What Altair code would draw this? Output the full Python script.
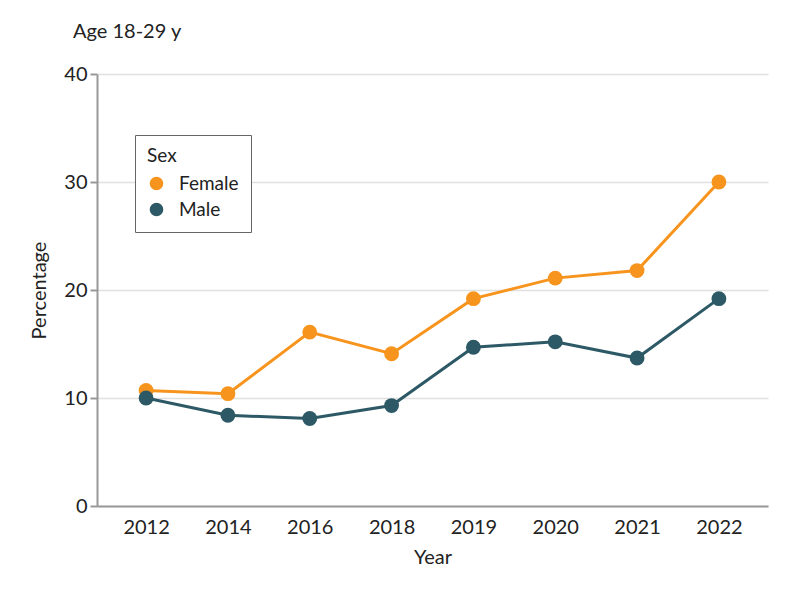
import altair as alt
import pandas as pd

years = ["2012", "2014", "2016", "2018", "2019", "2020", "2021", "2022"]
female = [10.7, 10.4, 16.1, 14.1, 19.2, 21.1, 21.8, 30.0]
male = [10.0, 8.4, 8.1, 9.3, 14.7, 15.2, 13.7, 19.2]
sexes = ["Female", "Male"]
colors = ["#F7941D", "#2D5966"]

rows = []
for y, f, m in zip(years, female, male):
    rows.append({"Year": y, "Sex": "Female", "Percentage": f})
    rows.append({"Year": y, "Sex": "Male", "Percentage": m})
df = pd.DataFrame(rows)

FONT = "Lato"
FS = 20

x = alt.X("Year:O", sort=years, title="Year",
          scale=alt.Scale(type="point", padding=0.6),
          axis=alt.Axis(labelAngle=0, ticks=False, grid=False, labelPadding=11,
                        titlePadding=10))
y = alt.Y("Percentage:Q", title="Percentage",
          scale=alt.Scale(domain=[0, 40]),
          axis=alt.Axis(values=[0, 10, 20, 30, 40], tickSize=7, labelPadding=3,
                        titlePadding=14, grid=True))
color = alt.Color("Sex:N", scale=alt.Scale(domain=sexes, range=colors),
                  legend=alt.Legend(title="Sex", orient="none", legendX=38, legendY=61,
                                    strokeColor="#666", padding=12, symbolType="circle",
                                    symbolSize=185, symbolStrokeWidth=0, labelOffset=13,
                                    rowPadding=6, titlePadding=8, fillColor="white"))

base = alt.Chart(df).encode(x=x, y=y, color=color)
lines = base.mark_line(strokeWidth=3)
points = base.mark_circle(size=220, opacity=1)

chart = (lines + points).properties(
    width=671, height=432,
    title=alt.Title("Age 18-29 y", anchor="start", frame="group", dx=-24, offset=22,
                    fontSize=FS, font=FONT, fontWeight="normal", color="#222"),
    padding={"left": 89, "top": 66, "right": 16, "bottom": 80},
    autosize=alt.AutoSizeParams(type="none"),
).configure_view(stroke=None).configure_axis(
    labelFont=FONT, titleFont=FONT, labelFontSize=FS, titleFontSize=FS,
    labelColor="#222", titleColor="#222", titleFontWeight="normal",
    domainColor="#999", domainWidth=2, tickColor="#999", tickWidth=2,
    gridColor="#e0e0e0", gridWidth=1.5,
).configure_axisY(domain=True).configure_legend(
    labelFont=FONT, titleFont=FONT, labelFontSize=19, titleFontSize=19,
    titleFontWeight="normal", labelColor="#222", titleColor="#222",
)

chart.save("out.html", embed_options={"renderer": "svg", "actions": False})
